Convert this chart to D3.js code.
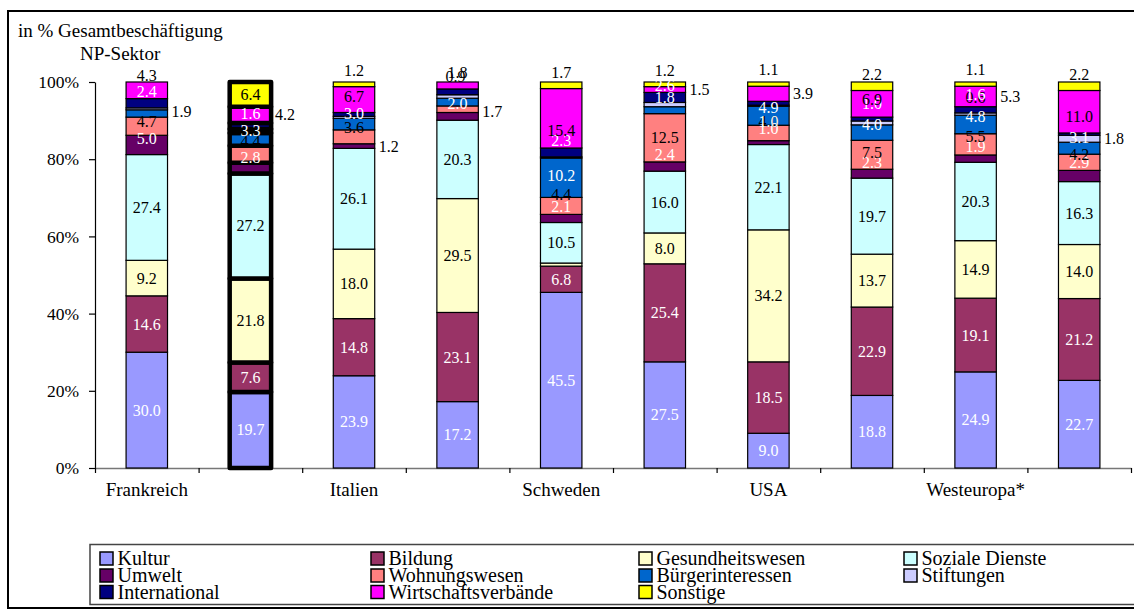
<!DOCTYPE html>
<html>
<head>
<meta charset="utf-8">
<script src="https://cdn.jsdelivr.net/npm/d3@7"></script>
<style>
  body { margin: 0; background: #fff; }
  svg { display: block; }
  text { font-family: "Liberation Serif", "Times New Roman", serif; fill: #000; }
</style>
</head>
<body>
<svg id="chart" width="1134" height="612"></svg>
<script>
// Employment share of the non-profit sector by field (in %), per country / region
const categories = ["Frankreich", "", "Italien", "", "Schweden", "", "USA", "", "Westeuropa*", ""];
const seriesNames = ["Kultur", "Bildung", "Gesundheitswesen", "Soziale Dienste", "Umwelt",
  "Wohnungswesen", "Bürgerinteressen", "Stiftungen", "International", "Wirtschaftsverbände", "Sonstige"];

const kultur        = [30.0, 19.7, 23.9, 17.2, 45.5, 27.5,  9.0, 18.8, 24.9, 22.7];
const bildung       = [14.6,  7.6, 14.8, 23.1,  6.8, 25.4, 18.5, 22.9, 19.1, 21.2];
const gesundheit    = [ 9.2, 21.8, 18.0, 29.5,  0.8,  8.0, 34.2, 13.7, 14.9, 14.0];
const sozialeDienste= [27.4, 27.2, 26.1, 20.3, 10.5, 16.0, 22.1, 19.7, 20.3, 16.3];
const umwelt        = [ 5.0,  2.8,  1.2,  2.0,  2.1,  2.4,  1.0,  2.3,  1.9,  2.9];
const wohnungswesen = [ 4.7,  4.4,  3.6,  1.7,  4.4, 12.5,  4.0,  7.5,  5.5,  4.2];
const buerger       = [ 1.9,  3.3,  3.0,  2.0, 10.2,  1.8,  4.9,  4.0,  4.8,  3.1];
const stiftungen    = [ 0.5,  1.0,  0.5,  0.9,  0.3,  1.1,  0.3,  1.0,  0.6,  1.8];
const international = [ 2.4,  1.6,  1.0,  1.5,  2.3,  2.6,  1.0,  1.0,  1.6,  0.6];
const wirtschaft    = [ 4.3,  4.2,  6.7,  1.8, 15.4,  1.5,  3.9,  6.9,  5.3, 11.0];
const sonstige      = [ 0.0,  6.4,  1.2,  0.0,  1.7,  1.2,  1.1,  2.2,  1.1,  2.2];

const yTicks = [0, 20, 40, 60, 80, 100];

const seriesValues = [kultur, bildung, gesundheit, sozialeDienste, umwelt, wohnungswesen,
  buerger, stiftungen, international, wirtschaft, sonstige];
const colors = ["#9999FF", "#993366", "#FFFFCC", "#CCFFFF", "#660066", "#FF8080",
  "#0066CC", "#CCCCFF", "#000080", "#FF00FF", "#FFFF00"];
const labelColors = ["#fff", "#fff", "#000", "#000", "#fff", "#000", "#fff", "#000", "#fff", "#000", "#000"];
const highlighted = 1; // bar drawn with a heavy outline

// Data label placement: centred in the segment unless listed here
// (dx/dy: shift in px, at: "right" beside the bar / "top" above the bar, hide: no label)
const labelPlace = {
  "0-4": {dy: -6}, "0-5": {dy: -5}, "0-6": {at: "right", dy: -2}, "0-7": {hide: 1}, "0-8": {dy: -11.5}, "0-9": {at: "top", dy: 3},
  "1-4": {dy: -11}, "1-5": {dy: -12.5}, "1-6": {dy: -9}, "1-7": {hide: 1}, "1-8": {dy: -13}, "1-9": {at: "right"},
  "2-4": {at: "right"}, "2-5": {dy: -9}, "2-6": {dy: -11}, "2-7": {hide: 1}, "2-8": {hide: 1}, "2-9": {dy: -3}, "2-10": {at: "top", dy: -2},
  "3-4": {hide: 1}, "3-5": {at: "right", dy: 2}, "3-6": {dy: 1}, "3-7": {at: "top", dx: -2, dy: 4}, "3-8": {hide: 1}, "3-9": {at: "top"},
  "4-2": {hide: 1}, "4-4": {dy: -12}, "4-5": {dy: -11}, "4-6": {dy: -2}, "4-7": {hide: 1}, "4-8": {dy: -12}, "4-9": {dy: 12}, "4-10": {at: "top"},
  "5-4": {dy: -12}, "5-6": {dy: -12.5}, "5-7": {hide: 1}, "5-8": {dy: -12}, "5-9": {at: "right"}, "5-10": {at: "top", dy: -2},
  "6-4": {dy: -14}, "6-5": {dy: -11}, "6-6": {dy: -8}, "6-7": {hide: 1}, "6-8": {dy: 18}, "6-9": {at: "right"}, "6-10": {at: "top", dy: -3},
  "7-4": {dy: -11}, "7-5": {dy: -2}, "7-6": {dy: -8}, "7-7": {hide: 1}, "7-8": {dy: -16}, "7-9": {dy: -4.5}, "7-10": {at: "top", dy: 2},
  "8-4": {dy: -12}, "8-5": {dy: -8}, "8-6": {dy: -8}, "8-7": {dy: -17}, "8-8": {dy: -15}, "8-9": {at: "right"}, "8-10": {at: "top", dy: -3},
  "9-4": {dy: -13}, "9-5": {dy: -8}, "9-6": {dy: -11}, "9-7": {at: "right"}, "9-8": {hide: 1}, "9-9": {dy: 5}, "9-10": {at: "top", dy: 2}
};

const svg = d3.select("#chart");
const W = 1134, H = 612;
const plot = {left: 95, right: 1131, top: 82, bottom: 468};

// outer frame
svg.append("rect").attr("x", 8).attr("y", 11).attr("width", W + 10).attr("height", 597)
  .attr("fill", "none").attr("stroke", "#000").attr("stroke-width", 2);

// axis title
svg.append("text").attr("x", 18).attr("y", 37).attr("font-size", 19).text("in % Gesamtbeschäftigung");
svg.append("text").attr("x", 80).attr("y", 60).attr("font-size", 19).text("NP-Sektor");

const idx = d3.range(categories.length);
const x = d3.scaleBand().domain(idx).range([plot.left, plot.right]).paddingInner(0).paddingOuter(0);
const xEdge = d3.scaleLinear().domain([0, categories.length]).range([plot.left, plot.right]);
const y = d3.scaleLinear().domain([0, 100]).range([plot.bottom, plot.top]);
const barW = x.bandwidth() * 0.4;

// stacked table
const table = idx.map(i => {
  const row = {i};
  seriesNames.forEach((s, k) => row[s] = seriesValues[k][i]);
  return row;
});
const stacked = d3.stack().keys(seriesNames)(table);

// y axis
const yAxis = svg.append("g").attr("transform", `translate(${plot.left},0)`)
  .call(d3.axisLeft(y).tickValues(yTicks).tickFormat(d => d + "%").tickSize(6).tickSizeOuter(0).tickPadding(10));
yAxis.select(".domain").attr("stroke", "#000").attr("stroke-width", 1.2);
yAxis.selectAll(".tick line").attr("stroke", "#000").attr("stroke-width", 1.2);
yAxis.selectAll(".tick text").attr("font-size", 17.5).attr("font-family", "Liberation Serif, serif").attr("fill", "#000");

// x axis: tick marks between categories, labels under every other bar
const xAxis = svg.append("g").attr("transform", `translate(0,${plot.bottom})`)
  .call(d3.axisBottom(xEdge).tickValues(d3.range(categories.length + 1)).tickFormat("").tickSize(5).tickSizeOuter(0));
xAxis.select(".domain").attr("stroke", "#777").attr("stroke-width", 1.5);
xAxis.selectAll(".tick line").attr("stroke", "#000").attr("stroke-width", 1.2);

const xLabels = svg.append("g").attr("transform", `translate(0,${plot.bottom})`)
  .call(d3.axisBottom(x).tickFormat(i => categories[i]).tickSize(0).tickPadding(15));
xLabels.select(".domain").remove();
xLabels.selectAll(".tick text").attr("font-size", 19).attr("font-family", "Liberation Serif, serif").attr("fill", "#000");

// bars
const layers = svg.append("g").selectAll("g").data(stacked).join("g")
  .attr("fill", (d, k) => colors[k]);
layers.selectAll("rect").data(d => d.filter(p => p[1] - p[0] > 0)).join("rect")
  .attr("x", p => x(p.data.i) + (x.bandwidth() - barW) / 2)
  .attr("width", barW)
  .attr("y", p => y(p[1]))
  .attr("height", p => y(p[0]) - y(p[1]))
  .attr("stroke", "#000")
  .attr("stroke-linejoin", p => p.data.i === highlighted ? "round" : "miter")
  .attr("stroke-width", p => p.data.i === highlighted ? 4.5 : 1.2);

// data labels
const labelG = svg.append("g").attr("font-size", 16);
stacked.forEach((layer, k) => {
  layer.forEach(p => {
    const v = p[1] - p[0];
    if (v <= 0) return;
    const i = p.data.i;
    const opt = labelPlace[`${i}-${k}`] || {};
    if (opt.hide) return;
    const cx = x(i) + x.bandwidth() / 2;
    let tx = cx + (opt.dx || 0), ty = (y(p[0]) + y(p[1])) / 2 + (opt.dy || 0), anchor = "middle", fill = labelColors[k];
    if (opt.at === "right") { tx = cx + barW / 2 + 4; anchor = "start"; fill = "#000"; }
    if (opt.at === "top") { ty = y(100) - 10 + (opt.dy || 0); fill = "#000"; }
    labelG.append("text")
      .attr("x", tx).attr("y", ty + 5.5)
      .attr("text-anchor", anchor)
      .style("fill", fill)
      .text(d3.format(".1f")(seriesValues[k][i]));
  });
});

// legend
const legendBox = {x: 90, y: 544.5, h: 60};
svg.append("rect").attr("x", legendBox.x).attr("y", legendBox.y).attr("width", W).attr("height", legendBox.h)
  .attr("fill", "#fff").attr("stroke", "#444").attr("stroke-width", 1.5);
const colX = [100, 371, 639, 904];
const rowY = [558.5, 575.5, 592];
const legend = svg.append("g").selectAll("g").data(seriesNames).join("g")
  .attr("transform", (d, k) => `translate(${colX[k % 4]},${rowY[Math.floor(k / 4)]})`);
legend.append("rect").attr("x", 0).attr("y", -6.5).attr("width", 13).attr("height", 13)
  .attr("fill", (d, k) => colors[k]).attr("stroke", "#000").attr("stroke-width", 1.5);
legend.append("text").attr("x", 17.5).attr("y", 6.5).attr("font-size", 20).text(d => d);
</script>
</body>
</html>
